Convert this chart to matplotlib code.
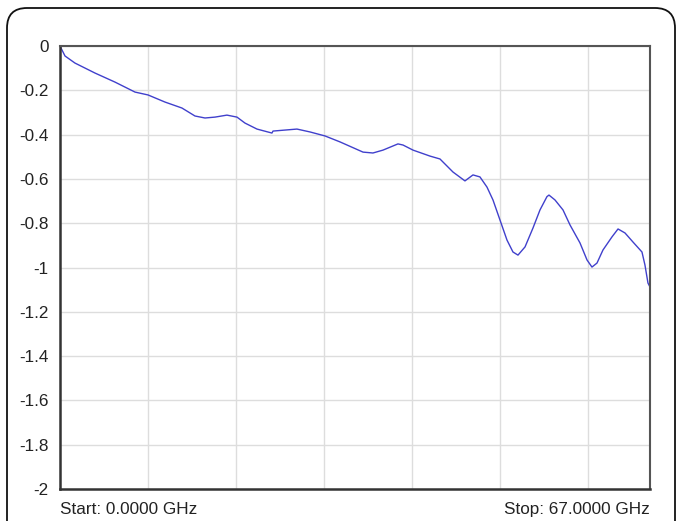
import matplotlib.pyplot as plt
from matplotlib.patches import FancyBboxPatch
import numpy as np

#------------------------------------------------------------------
# Data (frequency in GHz, insertion loss in dB)
freq_ghz = [0.0, 0.57, 1.70, 3.97, 6.25, 8.52, 10.0, 11.92, 13.85, 15.33,
            16.47, 17.60, 18.96, 20.10, 21.01, 22.37, 24.07, 24.19, 26.91,
            28.39, 30.09, 31.80, 34.41, 35.54, 36.68, 38.38, 38.95, 40.09,
            42.02, 43.15, 44.63, 45.99, 46.90, 47.69, 48.49, 49.17, 49.97,
            50.76, 51.44, 52.01, 52.81, 53.71, 54.51, 55.30, 55.53, 56.21,
            57.12, 57.92, 59.05, 59.85, 60.41, 60.98, 61.66, 62.68, 63.37,
            64.16, 65.07, 66.09, 66.43, 66.77, 67.0]
loss_db = [0.0, -0.045, -0.077, -0.122, -0.163, -0.208, -0.221, -0.253,
           -0.280, -0.316, -0.325, -0.321, -0.312, -0.321, -0.348, -0.375,
           -0.393, -0.384, -0.375, -0.388, -0.406, -0.433, -0.479, -0.483,
           -0.470, -0.442, -0.447, -0.470, -0.497, -0.510, -0.569, -0.609,
           -0.582, -0.591, -0.637, -0.695, -0.786, -0.876, -0.930, -0.944,
           -0.907, -0.822, -0.740, -0.680, -0.673, -0.695, -0.740, -0.808,
           -0.889, -0.966, -0.998, -0.980, -0.921, -0.862, -0.826, -0.844,
           -0.885, -0.930, -0.989, -1.070, -1.088]

x_grid = [10, 20, 30, 40, 50, 60]
y_ticks = [0, -0.2, -0.4, -0.6, -0.8, -1, -1.2, -1.4, -1.6, -1.8, -2]
y_labels = ['0', '-0.2', '-0.4', '-0.6', '-0.8', '-1', '-1.2', '-1.4',
            '-1.6', '-1.8', '-2']

#------------------------------------------------------------------
plt.rcParams['font.family'] = ['Liberation Sans', 'DejaVu Sans']

fig = plt.figure(figsize=(6.77, 5.21), dpi=100)
ax = fig.add_axes([0.0886, 0.0614, 0.8715, 0.8503])

# rounded frame around the whole screenshot
frame = FancyBboxPatch((0.07, -0.3), 6.68, 5.43,
                       boxstyle='round,pad=0,rounding_size=0.2',
                       transform=fig.dpi_scale_trans, fill=False,
                       edgecolor='#111111', linewidth=1.3, clip_on=False)
fig.add_artist(frame)

ax.plot(freq_ghz, loss_db, color='#4040cc', linewidth=1.0)

ax.set_xlim(0, 67)
ax.set_ylim(-2, 0)
ax.set_xticks(x_grid)
ax.set_xticklabels([])
ax.set_yticks(y_ticks)
ax.set_yticklabels(y_labels, fontsize=12.3, color='#222222')
ax.tick_params(length=0, pad=8)
ax.grid(color='#dddddd', linewidth=1)
ax.set_axisbelow(True)

for side in ['left', 'bottom']:
    ax.spines[side].set_color('#333333')
    ax.spines[side].set_linewidth(1.8)
for side in ['top', 'right']:
    ax.spines[side].set_color('#555555')
    ax.spines[side].set_linewidth(1.5)

ax.text(0, -0.03, 'Start: 0.0000 GHz', transform=ax.transAxes,
        ha='left', va='top', fontsize=12.3, color='#222222')
ax.text(1, -0.03, 'Stop: 67.0000 GHz', transform=ax.transAxes,
        ha='right', va='top', fontsize=12.3, color='#222222')

fig.savefig('out.png', dpi=100)
plt.close('all')
